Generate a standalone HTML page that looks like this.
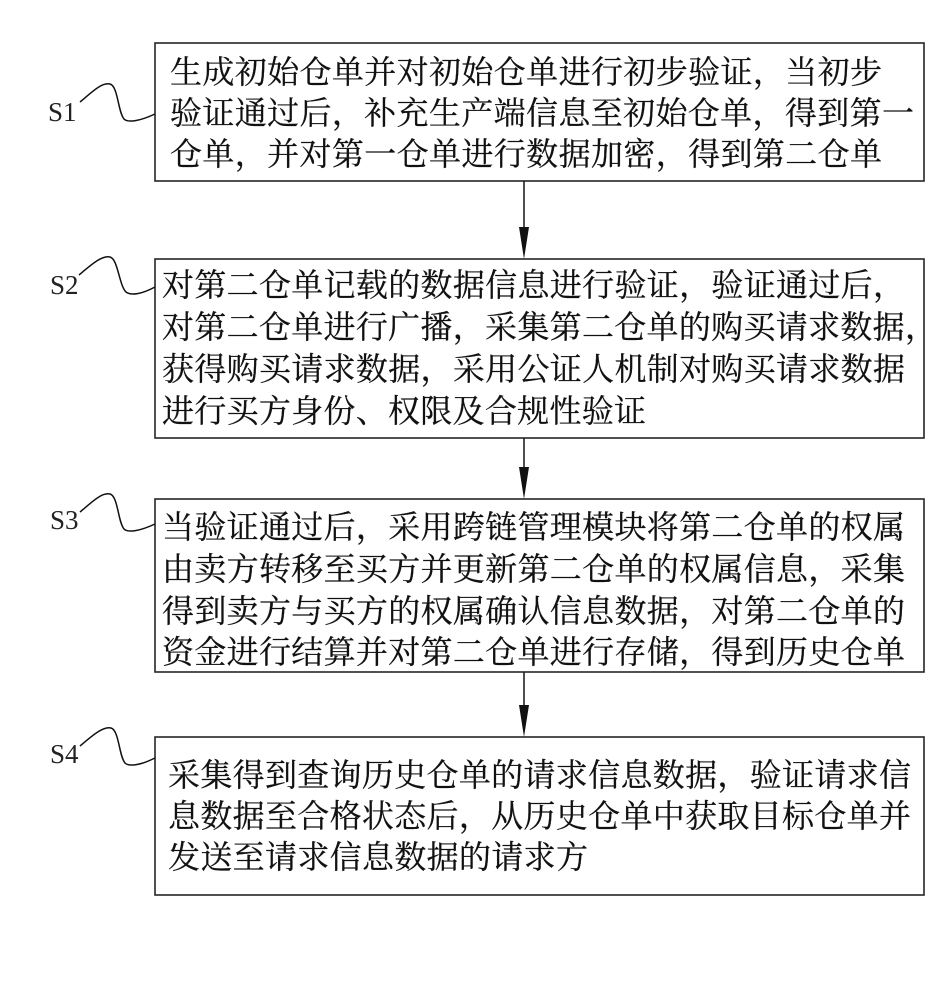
<!DOCTYPE html>
<html>
<head>
<meta charset="utf-8">
<style>
  html,body{margin:0;padding:0;background:#fff;}
  body{width:944px;height:1000px;overflow:hidden;}
  svg{display:block;}
  .t{font-family:"Liberation Serif","Noto Serif CJK SC","Noto Sans CJK SC",serif;font-size:32px;fill:#111;stroke:#111;stroke-width:0.25;}
  .s{font-family:"Liberation Serif",serif;font-size:27px;fill:#222;}
</style>
</head>
<body>
<svg width="944" height="1000" viewBox="0 0 944 1000" xmlns="http://www.w3.org/2000/svg">
  <rect x="0" y="0" width="944" height="1000" fill="#fff"/>

  <!-- Boxes -->
  <g fill="none" stroke="#262626" stroke-width="1.6">
    <rect x="155" y="43" width="769" height="138"/>
    <rect x="155" y="259" width="769" height="179"/>
    <rect x="155" y="499" width="769" height="173"/>
    <rect x="155" y="737" width="769" height="158"/>
  </g>

  <!-- Arrows -->
  <g stroke="#222" stroke-width="1.6">
    <line x1="524" y1="181" x2="524" y2="232"/>
    <line x1="524" y1="438" x2="524" y2="472"/>
    <line x1="524" y1="672" x2="524" y2="710"/>
  </g>
  <g fill="#111">
    <polygon points="519,227 529,227 524,259"/>
    <polygon points="519,467 529,467 524,499"/>
    <polygon points="519,705 529,705 524,737"/>
  </g>

  <!-- Leader curves -->
  <g fill="none" stroke="#111" stroke-width="1.5">
    <path d="M80,102 C92,92 102,82 110,84 C118,86 118,112 124,119 C128,123 140,121 155,114"/>
    <path d="M79,275 C91,265 102,255 110,257 C118,259 119,285 126,292 C131,296 142,294 155,287"/>
    <path d="M80,512 C92,502 102,492 110,494 C118,496 118,522 124,529 C128,533 140,531 155,524"/>
    <path d="M80,746 C92,736 103,726 111,728 C119,730 119,756 125,763 C129,767 141,765 155,758"/>
  </g>

  <!-- Step labels -->
  <text class="s" x="48" y="121">S1</text>
  <text class="s" x="50" y="294">S2</text>
  <text class="s" x="50" y="529">S3</text>
  <text class="s" x="50" y="763">S4</text>

  <!-- Box 1 text -->
  <text class="t" x="170" y="83" textLength="712" lengthAdjust="spacing">生成初始仓单并对初始仓单进行初步验证，当初步</text>
  <text class="t" x="170" y="124" textLength="744" lengthAdjust="spacing">验证通过后，补充生产端信息至初始仓单，得到第一</text>
  <text class="t" x="170" y="165" textLength="712" lengthAdjust="spacing">仓单，并对第一仓单进行数据加密，得到第二仓单</text>

  <!-- Box 2 text -->
  <text class="t" x="162" y="296" textLength="743" lengthAdjust="spacing">对第二仓单记载的数据信息进行验证，验证通过后，</text>
  <text class="t" x="162" y="338" textLength="775" lengthAdjust="spacing">对第二仓单进行广播，采集第二仓单的购买请求数据，</text>
  <text class="t" x="162" y="380" textLength="743" lengthAdjust="spacing">获得购买请求数据，采用公证人机制对购买请求数据</text>
  <text class="t" x="162" y="422" textLength="484" lengthAdjust="spacing">进行买方身份、权限及合规性验证</text>

  <!-- Box 3 text -->
  <text class="t" x="162" y="538" textLength="743" lengthAdjust="spacing">当验证通过后，采用跨链管理模块将第二仓单的权属</text>
  <text class="t" x="162" y="580" textLength="743" lengthAdjust="spacing">由卖方转移至买方并更新第二仓单的权属信息，采集</text>
  <text class="t" x="162" y="622" textLength="743" lengthAdjust="spacing">得到卖方与买方的权属确认信息数据，对第二仓单的</text>
  <text class="t" x="162" y="663" textLength="743" lengthAdjust="spacing">资金进行结算并对第二仓单进行存储，得到历史仓单</text>

  <!-- Box 4 text -->
  <text class="t" x="168" y="786" textLength="743" lengthAdjust="spacing">采集得到查询历史仓单的请求信息数据，验证请求信</text>
  <text class="t" x="168" y="827" textLength="743" lengthAdjust="spacing">息数据至合格状态后，从历史仓单中获取目标仓单并</text>
  <text class="t" x="168" y="868" textLength="420" lengthAdjust="spacing">发送至请求信息数据的请求方</text>
</svg>
</body>
</html>
